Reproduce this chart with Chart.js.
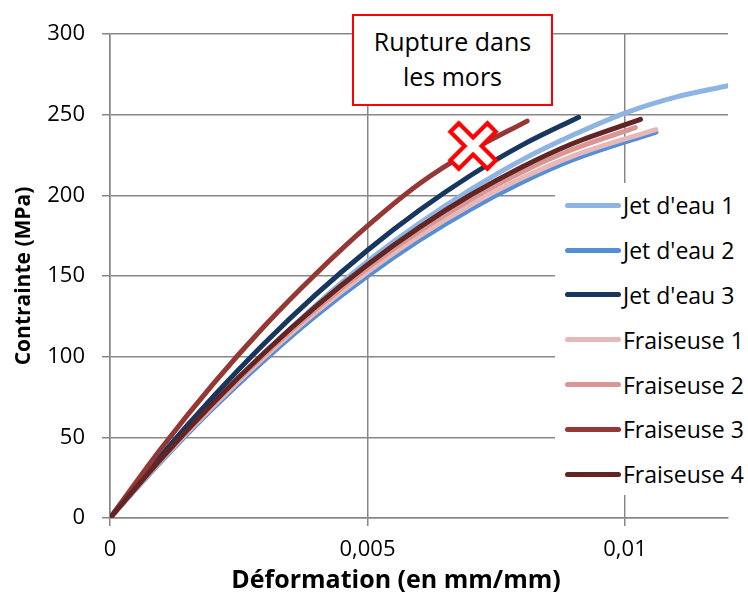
<!DOCTYPE html>
<html lang="fr">
<head>
    <meta charset="UTF-8">
    <title>Contrainte - Déformation</title>
    <script src="https://cdn.jsdelivr.net/npm/chart.js"></script>
    <style>
        body { margin: 0; background: #fff; font-family: 'Open Sans', sans-serif; }
        #wrap { position: relative; width: 748px; height: 594px; }
        #note {
            position: absolute; left: 352px; top: 14px; width: 201px; height: 92px;
            box-sizing: border-box; border: 2px solid #ff0000; background: #fff;
            text-align: center; font-size: 25px; line-height: 35px; padding-top: 8px; color: #000;
        }
        #legend {
            position: absolute; left: 555px; top: 183px; width: 193px; height: 312px;
            background: #fff;
        }
        .item { display: flex; align-items: center; height: 44.8px; font-size: 23px; color: #000; white-space: nowrap; }
        .swatch { display: inline-block; width: 56px; height: 5px; border-radius: 3px; margin-left: 10px; margin-right: 2px; }
        #xtitle {
            position: absolute; left: 196px; width: 400px; top: 563px; text-align: center;
            font-size: 25px; font-weight: bold; line-height: 30px; color: #000;
        }
    </style>
</head>
<body>
<div id="wrap">
    <canvas id="chart" width="748" height="594"></canvas>
    <div id="note">Rupture dans<br>les mors</div>
    <div id="legend"></div>
    <div id="xtitle">Déformation (en mm/mm)</div>
</div>
<script>
// Série : déformation (mm/mm) et contrainte (MPa)
const jet1X = [0, 0.001, 0.002, 0.003, 0.004, 0.005, 0.006, 0.007, 0.008, 0.009, 0.010, 0.011, 0.012];
const jet1Y = [0, 36.4, 70.4, 101.8, 132.0, 159.0, 182.5, 203.5, 222.0, 237.5, 251.0, 261.0, 268.0];
const jet2X = [0, 0.001, 0.002, 0.003, 0.004, 0.005, 0.006, 0.007, 0.008, 0.009, 0.0106];
const jet2Y = [0, 35.3, 68.0, 97.9, 125.4, 150.0, 172.0, 191.4, 208.1, 222.2, 239.2];
const jet3X = [0, 0.001, 0.002, 0.003, 0.004, 0.005, 0.006, 0.007, 0.008, 0.0091];
const jet3Y = [0, 39.0, 75.0, 108.3, 138.6, 166.0, 190.6, 212.3, 231.1, 248.4];
const fr1X = [0, 0.001, 0.002, 0.003, 0.004, 0.005, 0.006, 0.007, 0.008, 0.009, 0.0106];
const fr1Y = [0, 36.0, 69.3, 99.8, 127.6, 152.5, 174.7, 194.0, 210.7, 224.5, 240.8];
const fr2X = [0, 0.001, 0.002, 0.003, 0.004, 0.005, 0.006, 0.007, 0.008, 0.009, 0.0102];
const fr2Y = [0, 36.6, 70.4, 101.4, 129.6, 155.0, 177.6, 197.4, 214.5, 228.7, 242.0];
const fr3X = [0, 0.001, 0.002, 0.003, 0.004, 0.005, 0.006, 0.007, 0.0081];
const fr3Y = [0, 43.4, 83.0, 119.0, 151.4, 181.0, 207.0, 227.5, 246.0];
const fr4X = [0, 0.001, 0.002, 0.003, 0.004, 0.005, 0.006, 0.007, 0.008, 0.009, 0.0103];
const fr4Y = [0, 37.0, 71.2, 102.6, 131.2, 157.0, 180.0, 200.2, 217.6, 232.3, 247.1];

const names = ["Jet d'eau 1", "Jet d'eau 2", "Jet d'eau 3", 'Fraiseuse 1', 'Fraiseuse 2', 'Fraiseuse 3', 'Fraiseuse 4'];
const colors = ['#8EB4E3', '#558ED5', '#17375E', '#E6B9B8', '#D99694', '#953735', '#632523'];
const seriesX = [jet1X, jet2X, jet3X, fr1X, fr2X, fr3X, fr4X];
const seriesY = [jet1Y, jet2Y, jet3Y, fr1Y, fr2Y, fr3Y, fr4Y];

// rupture marker
const ruptureX = [0.00705];
const ruptureY = [230.6];

function pts(xs, ys) { return xs.map((x, i) => ({ x: x, y: ys[i] })); }

// outlined red cross
const cross = document.createElement('canvas');
cross.width = 58; cross.height = 58;
(function () {
    const c = cross.getContext('2d');
    c.lineCap = 'butt';
    c.strokeStyle = '#ff0000'; c.lineWidth = 16;
    c.beginPath(); c.moveTo(9, 9); c.lineTo(49, 49); c.moveTo(49, 9); c.lineTo(9, 49); c.stroke();
    c.strokeStyle = '#ffffff'; c.lineWidth = 8;
    c.beginPath(); c.moveTo(12, 12); c.lineTo(46, 46); c.moveTo(46, 12); c.lineTo(12, 46); c.stroke();
})();

const datasets = names.map((n, i) => ({
    label: n,
    data: pts(seriesX[i], seriesY[i]),
    borderColor: colors[i],
    backgroundColor: colors[i],
    borderWidth: 5,
    borderCapStyle: 'round',
    pointRadius: 0,
    showLine: true,
    cubicInterpolationMode: 'monotone',
    order: names.length - i
}));
datasets.push({
    label: 'rupture',
    data: pts(ruptureX, ruptureY),
    pointStyle: cross,
    pointRadius: 29,
    showLine: false,
    order: -1
});

// html legend
const legend = document.getElementById('legend');
names.forEach((n, i) => {
    const row = document.createElement('div');
    row.className = 'item';
    row.innerHTML = '<span class="swatch" style="background:' + colors[i] + '"></span><span>' + n + '</span>';
    legend.appendChild(row);
});

const gridColor = '#878787';
const tickFont = { family: 'Open Sans', size: 22 };

new Chart(document.getElementById('chart').getContext('2d'), {
    type: 'scatter',
    data: { datasets: datasets },
    options: {
        responsive: false,
        animation: false,
        layout: { autoPadding: false, padding: { top: 34, right: 20, left: 0, bottom: 0 } },
        plugins: { legend: { display: false }, tooltip: { enabled: false } },
        scales: {
            x: {
                type: 'linear', min: 0, max: 0.012,
                afterBuildTicks: s => { s.ticks = s.ticks.filter(t => Math.abs(t.value / 0.005 - Math.round(t.value / 0.005)) < 1e-6); },
                afterFit: s => { s.height = 76; s.paddingLeft = 0; s.paddingRight = 0; },
                ticks: {
                    stepSize: 0.005, color: '#000', font: tickFont, padding: 11, maxRotation: 0,
                    callback: v => v === 0 ? '0' : String(+v.toFixed(3)).replace('.', ',')
                },
                grid: { color: gridColor, lineWidth: 1.5, tickLength: 8 },
                border: { color: gridColor, width: 1.5 }
            },
            y: {
                min: 0, max: 300,
                afterFit: s => { s.width = 110; s.paddingTop = 0; s.paddingBottom = 0; },
                ticks: { stepSize: 50, color: '#000', font: tickFont, padding: 17 },
                grid: { color: gridColor, lineWidth: 1.5, tickLength: 8 },
                border: { color: gridColor, width: 1.5 },
                title: { display: true, text: 'Contrainte (MPa)', color: '#000', font: { family: 'Open Sans', size: 21, weight: 'bold' }, padding: { top: 11, bottom: 0 } }
            }
        }
    }
});
</script>
</body>
</html>
